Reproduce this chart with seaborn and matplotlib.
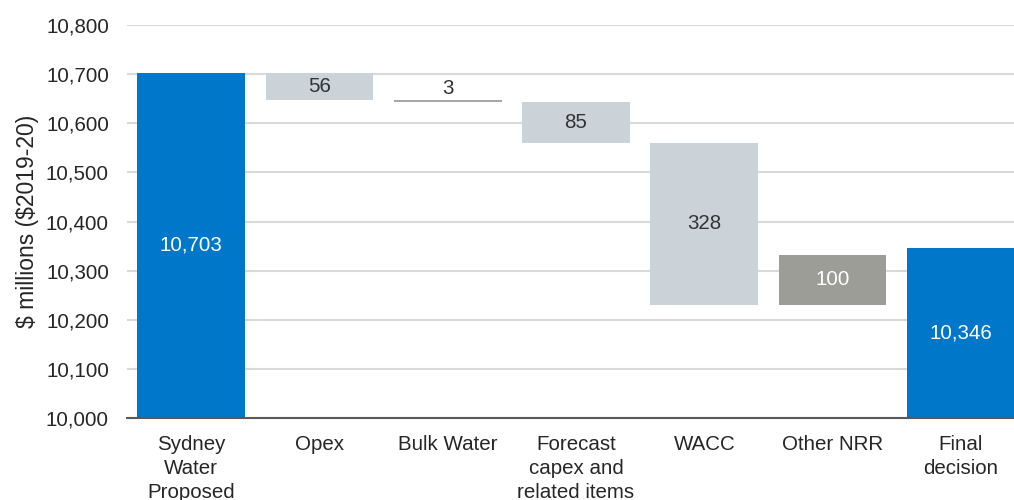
import matplotlib
matplotlib.use("Agg")
import matplotlib.pyplot as plt
import seaborn as sns
import pandas as pd

# Waterfall data ($ millions, $2019-20)
categories = ["Sydney\nWater\nProposed", "Opex", "Bulk Water",
              "Forecast\ncapex and\nrelated items", "WACC", "Other NRR", "Final\ndecision"]
proposed = 10703
changes = [-56, -3, -85, -328, 100]
final = 10346
yticks = list(range(10000, 10801, 100))

# Build bar bottoms / heights for the waterfall
bases, heights, kinds = [], [], []
bases.append(yticks[0]); heights.append(proposed - yticks[0]); kinds.append("total")
level = proposed
for c in changes:
    if c < 0:
        bases.append(level + c); heights.append(-c); kinds.append("down")
    else:
        bases.append(level); heights.append(c); kinds.append("up")
    level += c
bases.append(yticks[0]); heights.append(final - yticks[0]); kinds.append("total")

df = pd.DataFrame({"category": categories, "base": bases, "height": heights, "kind": kinds})
df["label"] = [f"{proposed:,}"] + [f"{abs(c):,}" for c in changes] + [f"{final:,}"]

colors = {"total": "#0077C8", "down": "#CBD3D9", "up": "#9D9D98"}
text_colors = {"total": "white", "down": "#333333", "up": "white"}
FS = 14.8

sns.set_theme(style="white")
plt.rcParams["font.family"] = ["Liberation Sans", "DejaVu Sans"]

fig = plt.figure(figsize=(10.14, 5.0), dpi=100)
ax = fig.add_axes([127 / 1014, 1 - 418 / 500, 898 / 1014, (418 - 25) / 500])

sns.barplot(data=df, x="category", y="height", bottom=df["base"], color="#0077C8",
            width=0.84, ax=ax, zorder=3)
for patch, kind in zip(ax.patches, df["kind"]):
    patch.set_facecolor(colors[kind])
    patch.set_edgecolor("none")
    if kind == "down" and patch.get_height() < 5:
        patch.set_facecolor("#A6A6A6")

for i, row in df.iterrows():
    if row["height"] < 10:
        ax.text(i, row["base"] + row["height"] + 4, row["label"], ha="center", va="bottom",
                fontsize=FS, color=text_colors[row["kind"]], zorder=4)
    else:
        ax.text(i, row["base"] + row["height"] / 2, row["label"], ha="center", va="center",
                fontsize=FS, color=text_colors[row["kind"]], zorder=4)

ax.set_ylim(yticks[0], yticks[-1])
ax.set_xlim(-0.5, len(categories) - 0.5)
ax.set_yticks(yticks)
ax.set_yticklabels([f"{t:,}" for t in yticks], fontsize=FS, color="#262626")
ax.tick_params(axis="y", length=0, pad=13)
ax.tick_params(axis="x", length=0, pad=12)
ax.set_xticks(range(len(categories)))
ax.set_xticklabels(categories, fontsize=FS, color="#262626", linespacing=1.36, va="top")
ax.set_xlabel("")
ax.set_ylabel(r"\$ millions (\$2019-20)", fontsize=16.5, color="#262626", labelpad=5)

ax.yaxis.grid(True, color="#D9D9D9", linewidth=1.5, zorder=0)
ax.set_axisbelow(True)
for side in ["top", "right", "left"]:
    ax.spines[side].set_visible(False)
ax.spines["bottom"].set_color("#595959")
ax.spines["bottom"].set_linewidth(1.5)
ax.spines["bottom"].set_zorder(5)

fig.savefig("out.png", dpi=100)
